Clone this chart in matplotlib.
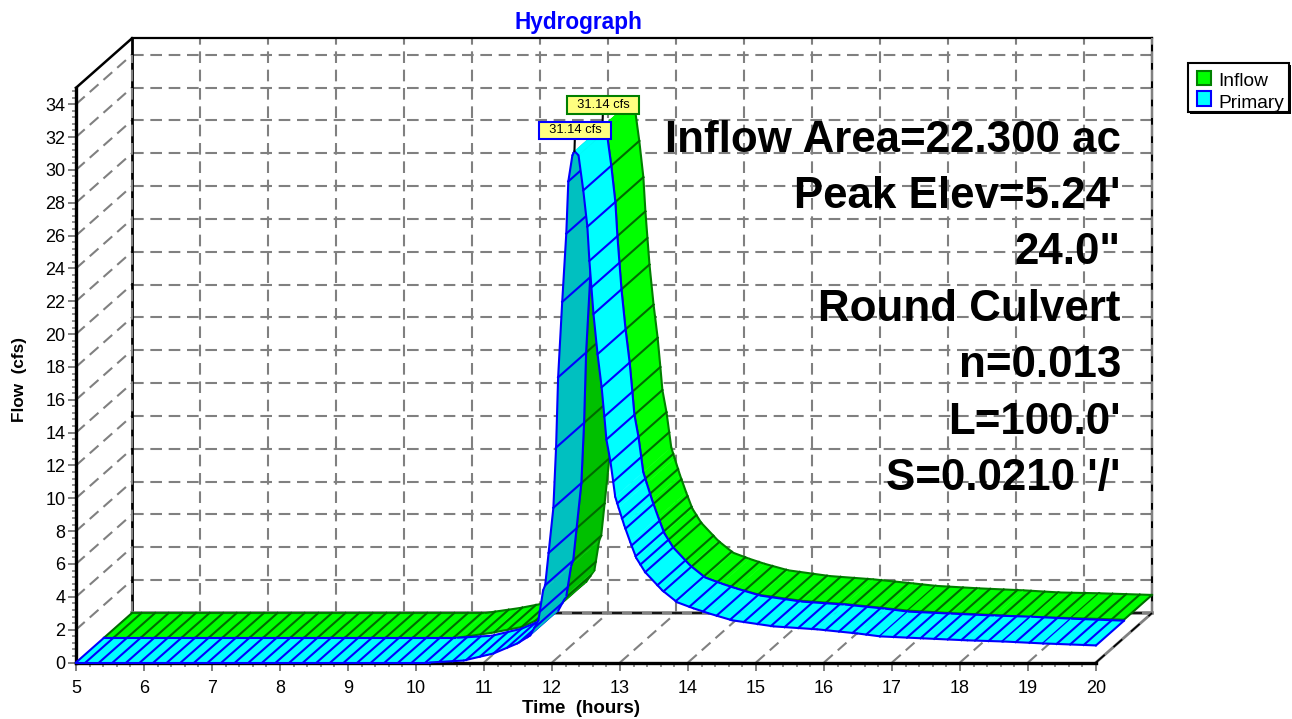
import numpy as np
import matplotlib
matplotlib.use('Agg')
import matplotlib.pyplot as plt
from matplotlib.patches import Rectangle

plt.rcParams['font.family'] = ['Liberation Sans', 'DejaVu Sans']

# Hydrograph values
time_hr = [5.0, 10.2, 10.7, 11.14, 11.49, 11.68, 11.8, 11.87, 11.9, 11.95, 12.02, 12.06, 12.09,
           12.15, 12.21, 12.24, 12.3, 12.33, 12.39, 12.46, 12.52, 12.55, 12.61, 12.67, 12.73,
           12.77, 12.8, 12.86, 12.93, 12.98, 13.06, 13.15, 13.24, 13.37, 13.62, 13.84, 14.08,
           14.3, 14.65, 15.26, 15.9, 16.49, 16.83, 17.46, 18.11, 18.64, 19.23, 20.0]
primary_cfs = [0, 0, 0.12, 0.55, 1.16, 1.65, 2.57, 4.4, 4.71, 6.67, 9.42, 13.09, 17.37,
               21.96, 26.12, 29.3, 30.89, 31.14, 30.89, 28.75, 26.54, 24.46, 21.22, 18.78, 16.76,
               14.98, 13.58, 12.23, 10.09, 9.42, 8.38, 7.34, 6.36, 5.5, 4.4, 3.67, 3.3,
               3.0, 2.57, 2.2, 2.02, 1.77, 1.59, 1.47, 1.35, 1.28, 1.16, 1.04]
inflow_cfs = [0, 0, 0.3, 0.65, 1.3, 1.9, 2.6, 4.4, 4.71, 6.67, 9.42, 13.09, 17.37,
              21.96, 26.12, 29.3, 30.89, 31.14, 30.89, 28.75, 26.54, 24.46, 21.22, 18.78, 16.76,
              14.98, 13.58, 12.23, 10.09, 9.42, 8.38, 7.34, 6.36, 5.5, 4.4, 3.67, 3.3,
              3.0, 2.6, 2.25, 2.05, 1.8, 1.65, 1.5, 1.38, 1.25, 1.2, 1.1]

# cross lines on the ribbons
hatch_hr = list(np.arange(5.14, 11.4, 0.2)) + [
    11.52, 11.64, 11.74, 11.82, 11.9, 11.95, 12.02, 12.06, 12.09, 12.15, 12.21, 12.24,
    12.46, 12.52, 12.55, 12.58, 12.61, 12.67, 12.73, 12.77, 12.8, 12.86, 12.9, 12.96, 13.03,
    13.08, 13.17, 13.23, 13.3, 13.37, 13.55, 13.64] + list(np.arange(13.82, 19.9, 0.2))

notes = ['Inflow Area=22.300 ac', "Peak Elev=5.24'", '24.0"', 'Round Culvert',
         'n=0.013', "L=100.0'", "S=0.0210 '/'"]

W, H = 1292, 719
fig = plt.figure(figsize=(W / 100, H / 100), dpi=100)
fig.patch.set_facecolor('white')

# front plane of the chart, 68 px/hour and 16.42 px/cfs
ax = fig.add_axes([76 / W, (H - 662.5) / H, 1020 / W, 35 * 16.42 / H])
ax.set_xlim(5, 20)
ax.set_ylim(0, 35)
DX = 56 / 68   # depth of the box in data units
DY = 49.5 / 16.42

GREY = '#808080'
dash = (0, (5.6, 3.2))

# back wall, floor and left wall grid
for q in range(2, 35, 2):
    ax.plot([5 + DX, 20 + DX], [q + DY, q + DY], color=GREY, lw=1.5, ls=dash, clip_on=False, zorder=1)
    ax.plot([5, 5 + DX], [q, q + DY], color=GREY, lw=1.5, ls=dash, clip_on=False, zorder=1)
for t in range(6, 20):
    ax.plot([t + DX, t + DX], [DY, 35 + DY], color=GREY, lw=1.5, ls=dash, clip_on=False, zorder=1)
    ax.plot([t, t + DX], [0, DY], color=GREY, lw=1.5, ls=dash, clip_on=False, zorder=1)

# box frame
ax.plot([5 + DX, 5 + DX], [DY, 35 + DY], color='black', lw=2, clip_on=False, zorder=1)
ax.plot([5 + DX, 5 + DX], [DY, 34 + DY], color=GREY, lw=1.5, ls=dash, clip_on=False, zorder=1.1)
ax.plot([5 + DX, 20 + DX], [35 + DY, 35 + DY], color='black', lw=1.6, clip_on=False, zorder=1)
ax.plot([5, 5 + DX], [35, 35 + DY], color='black', lw=1.8, clip_on=False, zorder=1)
ax.plot([20 + DX, 20 + DX], [DY, 35 + DY], color='black', lw=1.6, clip_on=False, zorder=1)
ax.plot([20 + DX, 20 + DX], [DY, 35 + DY], color=GREY, lw=1.5, ls=dash, clip_on=False, zorder=1.1)
ax.plot([5 + DX, 20 + DX], [DY, DY], color=GREY, lw=2.6, clip_on=False, zorder=1)
ax.plot([5 + DX, 20 + DX], [DY, DY], color='black', lw=1.2, ls=(0, (6, 6)), clip_on=False, zorder=1.1)
ax.plot([20, 20 + DX], [0, DY], color=GREY, lw=2, clip_on=False, zorder=1)
ax.plot([20, 20 + DX], [0, DY], color='black', lw=1.2, ls=(0, (7, 7)), clip_on=False, zorder=1.1)


def ribbon(t, q, bright, dark, edge, cross, d0, d1, z):
    t = np.array(t)
    q = np.array(q, dtype=float)
    for i in range(len(t) - 1):
        zi = z + i * 0.01
        slope = (q[i + 1] - q[i]) / (t[i + 1] - t[i])
        xs = [t[i] + d0 * DX, t[i + 1] + d0 * DX, t[i + 1] + d1 * DX, t[i] + d1 * DX]
        ys = [q[i] + d0 * DY, q[i + 1] + d0 * DY, q[i + 1] + d1 * DY, q[i] + d1 * DY]
        color = dark if slope > 5 else bright
        ax.fill(xs, ys, color=color, lw=0.3, clip_on=False, zorder=zi)
        ax.plot(xs[:2], ys[:2], color=edge, lw=1.5, clip_on=False, zorder=zi, solid_capstyle='round')
        ax.plot(xs[2:], ys[2:], color=edge, lw=1.5, clip_on=False, zorder=zi, solid_capstyle='round')
        for h in hatch_hr:
            if t[i] <= h < t[i + 1]:
                qh = np.interp(h, t, q)
                ax.plot([h + d0 * DX, h + d1 * DX], [qh + d0 * DY, qh + d1 * DY], color=cross,
                        lw=1.5, clip_on=False, zorder=zi)
    # end caps
    for k in (0, -1):
        ax.plot([t[k] + d0 * DX, t[k] + d1 * DX], [q[k] + d0 * DY, q[k] + d1 * DY], color=cross,
                lw=1.5, clip_on=False, zorder=z + 1)


ribbon(time_hr, inflow_cfs, '#00ff00', '#00c000', '#008000', '#006a00', 0.5, 1.0, 2)
ribbon(time_hr, primary_cfs, '#00ffff', '#00c0c0', '#0000ff', '#0000ff', 0.0, 0.5, 3)

# peak labels
peak = int(np.argmax(primary_cfs))
ax.annotate('  31.14 cfs  ', xy=(time_hr[peak], primary_cfs[peak]), xytext=(0.5, 15), textcoords='offset points',
            ha='center', va='center', fontsize=9.3, annotation_clip=False, zorder=10,
            bbox=dict(boxstyle='square,pad=0.22', fc='#ffff80', ec='#0000ff', lw=1.5),
            arrowprops=dict(arrowstyle='-', color='black', lw=1.5, shrinkA=0, shrinkB=0))
ax.annotate('  31.14 cfs  ', xy=(time_hr[peak] + 0.5 * DX, inflow_cfs[peak] + 0.5 * DY), xytext=(0.5, 15.5),
            textcoords='offset points', ha='center', va='center', fontsize=9.3, annotation_clip=False, zorder=9,
            bbox=dict(boxstyle='square,pad=0.22', fc='#ffff80', ec='#008000', lw=1.5),
            arrowprops=dict(arrowstyle='-', color='black', lw=1.5, shrinkA=0, shrinkB=0))

# axes
for side in ['top', 'right']:
    ax.spines[side].set_visible(False)
ax.spines['left'].set_linewidth(2.4)
ax.spines['bottom'].set_linewidth(2.4)
ax.patch.set_alpha(0)
ax.set_xticks(range(5, 21))
ax.set_xticks(np.arange(5, 20.01, 0.2), minor=True)
ax.set_yticks(range(0, 35, 2))
ax.set_yticks(np.arange(0, 34.9, 0.4), minor=True)
ax.tick_params(which='major', length=5.5, width=1.4, color=GREY, labelsize=13)
ax.tick_params(which='minor', length=3.2, width=1.2, color=GREY)
ax.tick_params(axis='x', which='major', pad=7)
ax.tick_params(axis='y', which='major', pad=2)

fig.text(578 / W, 1 - 22.5 / H, 'Hydrograph', color='#0000ff', fontsize=16.3, fontweight='bold', ha='center', va='center')
fig.text(20 / W, 1 - 380 / H, 'Flow  (cfs)', fontsize=12.3, fontweight='bold', rotation=90, ha='center', va='center')
fig.text(581 / W, 1 - 708.5 / H, 'Time  (hours)', fontsize=13.5, fontweight='bold', ha='center', va='center')

for i, line in enumerate(notes):
    fig.text(1121 / W, 1 - (140 + i * 56.4) / H, line, fontsize=31.6, fontweight='bold', ha='right', va='center')

# legend box with its shadow
lg = fig.add_axes([0, 0, 1, 1], zorder=5)
lg.set_xlim(0, W)
lg.set_ylim(H, 0)
lg.axis('off')
lg.add_patch(Rectangle((1190, 65), 101, 49, fc='black', ec='none'))
lg.add_patch(Rectangle((1188, 63), 101, 49, fc='white', ec='black', lw=1.5))
lg.add_patch(Rectangle((1197, 71), 14, 14, fc='#00ff00', ec='#008000', lw=1.5))
lg.add_patch(Rectangle((1197, 91), 14, 15, fc='#00ffff', ec='#0000ff', lw=1.5))
lg.text(1218, 82, 'Inflow', fontsize=13.8, va='center', ha='left')
lg.text(1218, 103, 'Primary', fontsize=13.8, va='center', ha='left')

fig.savefig('out.png', dpi=100)
